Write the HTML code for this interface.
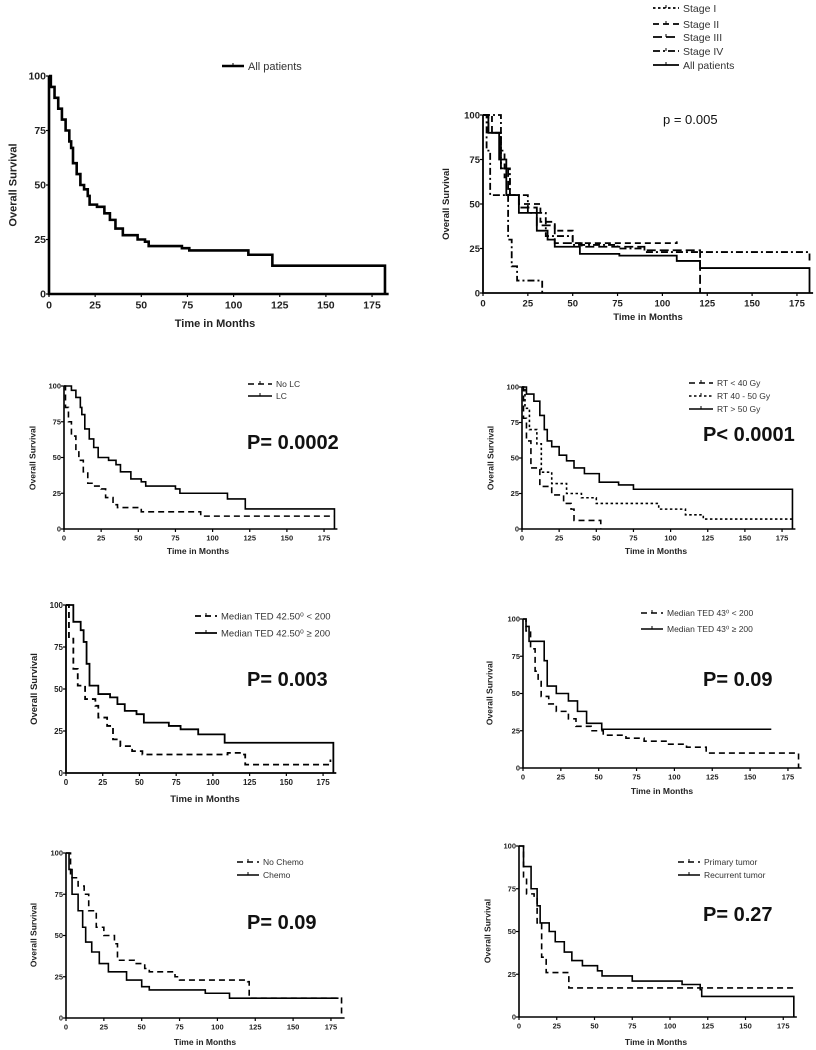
<!DOCTYPE html>
<html><head><meta charset="utf-8"><style>
html,body{margin:0;padding:0;background:#fff;}
svg{display:block;font-family:"Liberation Sans",sans-serif;}
</style></head><body>
<svg id="fig" width="816" height="1050" viewBox="0 0 816 1050"></svg>
<script>
const xTicks=[0,25,50,75,100,125,150,175];
const yTicks=[0,25,50,75,100];
// Panel 1: all patients
const p1All=[[0,100],[1,95],[3,90],[5,85],[7,80],[9,75],[11,70],[12,67],[13,60],[15,55],[17,50],[19,48],[21,45],[22,41],[26,40],[30,37],[33,34],[36,30],[40,27],[48,25],[52,24],[54,22],[72,21],[76,20],[108,18],[121,13],[182,13],[182,0]];
// Panel 2: stage
const p2S1=[[0,100],[2,80],[4,55],[13,55],[14,30],[16,15],[19,7],[33,7],[33,0]];
const p2S2=[[0,100],[5,90],[10,80],[12,65],[15,55],[20,50],[30,50],[32,40],[40,35],[50,28],[55,28],[108,29]];
const p2S3=[[0,100],[3,90],[10,70],[14,55],[20,48],[30,38],[40,28],[55,26],[90,24],[120,24],[121,0]];
const p2S4=[[0,100],[10,70],[15,55],[25,45],[35,32],[50,27],[75,25],[90,23],[182,23],[182,17]];
const p2All=[[0,100],[3,90],[9,75],[13,55],[20,45],[30,35],[36,30],[40,26],[54,22],[76,21],[108,18],[121,14],[182,14],[182,0]];
// Panel 3: local control
const p3NoLC=[[0,100],[1,85],[3,75],[5,65],[8,55],[10,48],[13,40],[16,32],[20,30],[25,28],[28,22],[33,17],[36,15],[50,15],[52,12],[90,12],[92,9],[182,9]];
const p3LC=[[0,100],[5,97],[8,92],[11,85],[12,80],[14,70],[17,63],[20,57],[23,50],[30,48],[35,45],[38,40],[45,35],[52,33],[55,30],[75,28],[78,25],[108,25],[110,21],[121,21],[122,14],[182,14],[182,0]];
// Panel 4: RT dose
const p4Lo=[[0,100],[1,78],[3,62],[6,43],[12,30],[20,24],[25,24],[28,18],[33,14],[35,6],[50,6],[53,0]];
const p4Mid=[[0,100],[2,85],[5,70],[10,60],[13,40],[20,32],[30,25],[40,22],[50,18],[90,18],[92,14],[110,10],[122,7],[182,7]];
const p4Hi=[[0,100],[3,95],[8,90],[12,80],[15,70],[17,62],[20,58],[25,52],[30,48],[35,43],[42,39],[52,33],[65,31],[75,28],[182,28],[182,0]];
// Panel 5: TED 42.5
const p5Lo=[[0,100],[2,80],[5,62],[8,52],[13,44],[20,40],[22,33],[28,28],[32,20],[37,16],[45,13],[52,11],[110,12],[120,11],[122,5],[180,5],[180,8]];
const p5Hi=[[0,100],[5,90],[10,85],[12,78],[14,65],[16,52],[22,47],[30,45],[35,41],[40,37],[48,35],[53,30],[70,28],[78,26],[90,23],[107,23],[108,18],[182,18],[182,0]];
// Panel 6: TED 43
const p6Lo=[[0,100],[2,92],[5,80],[8,65],[10,58],[12,48],[17,43],[22,38],[30,33],[35,28],[45,25],[53,22],[68,20],[80,18],[95,16],[108,14],[121,10],[180,10],[182,0]];
const p6Hi=[[0,100],[2,95],[4,85],[12,85],[14,72],[16,55],[22,50],[30,45],[36,38],[42,30],[52,26],[164,26]];
// Panel 7: chemo
const p7No=[[0,100],[3,85],[8,80],[12,75],[15,65],[20,55],[25,50],[32,45],[34,35],[45,33],[52,30],[55,28],[72,25],[75,23],[95,23],[120,22],[121,12],[182,11],[182,0]];
const p7Yes=[[0,100],[2,90],[4,75],[8,65],[11,55],[13,46],[17,40],[22,33],[28,28],[40,23],[50,19],[55,17],[90,17],[92,15],[107,15],[108,12],[180,12]];
// Panel 8: tumor
const p8Prim=[[0,100],[3,82],[5,72],[10,70],[12,55],[15,35],[18,26],[30,26],[33,17],[182,17]];
const p8Rec=[[0,100],[3,88],[8,75],[12,65],[14,55],[20,50],[24,44],[30,38],[35,33],[42,30],[52,27],[55,24],[75,21],[108,19],[120,16],[121,12],[182,12],[182,0]];

const NS="http://www.w3.org/2000/svg";
const svg=document.getElementById('fig');
function mk(tag,attrs,parent){const e=document.createElementNS(NS,tag);for(const k in attrs)e.setAttribute(k,attrs[k]);(parent||svg).appendChild(e);return e;}
const DASH={solid:'',dash:'6,4',dot:'2.5,2.5',dashdot:'7,3,2,3',longdash:'9,4'};

const panels=[
 {id:'all',x0:49,y0:294,yt:76,ppm:1.846,lw:2.6,fs:10.5,lfs:11,xl:[215,327],yl:[12,185],
  series:[{d:p1All,s:'solid',n:'all-patients'}],
  legend:[{s:'solid',t:'All patients',x:222,y:66,n:'all-patients'}],lx:[222,244],p:null},
 {id:'stage',x0:483,y0:293,yt:115,ppm:1.794,lw:1.8,fs:9.5,lfs:9.5,xl:[648,320],yl:[445,204],
  series:[{d:p2S1,s:'dashdot',n:'stage-1'},{d:p2S2,s:'dash',n:'stage-2'},{d:p2S3,s:'longdash',n:'stage-3'},{d:p2S4,s:'dashdot',n:'stage-4'},{d:p2All,s:'solid',n:'all-patients'}],
  legend:[{s:'dot',t:'Stage I',y:8,n:'stage-1'},{s:'dash',t:'Stage II',y:24,n:'stage-2'},{s:'longdash',t:'Stage III',y:37,n:'stage-3'},{s:'dashdot',t:'Stage IV',y:51,n:'stage-4'},{s:'solid',t:'All patients',y:65,n:'all-patients'}],lx:[653,679],lfs2:10.5,
  p:{t:'p = 0.005',x:663,y:124,fs:13,w:'normal'}},
 {id:'lc',x0:64,y0:529,yt:386,ppm:1.486,lw:1.6,fs:7.5,lfs:8.5,xl:[198,554],yl:[32,458],
  series:[{d:p3NoLC,s:'dash',n:'no-lc'},{d:p3LC,s:'solid',n:'lc'}],
  legend:[{s:'dash',t:'No LC',y:384,n:'no-lc'},{s:'solid',t:'LC',y:396,n:'lc'}],lx:[248,272],
  p:{t:'P= 0.0002',x:247,y:449,fs:20,w:'bold'}},
 {id:'rt',x0:522,y0:529,yt:387,ppm:1.486,lw:1.6,fs:7.5,lfs:8.5,xl:[656,554],yl:[490,458],
  series:[{d:p4Lo,s:'dash',n:'rt-under-40'},{d:p4Mid,s:'dot',n:'rt-40-50'},{d:p4Hi,s:'solid',n:'rt-over-50'}],
  legend:[{s:'dash',t:'RT < 40 Gy',y:383,n:'rt-under-40'},{s:'dot',t:'RT 40 - 50 Gy',y:396,n:'rt-40-50'},{s:'solid',t:'RT > 50 Gy',y:409,n:'rt-over-50'}],lx:[689,713],
  p:{t:'P< 0.0001',x:703,y:441,fs:20,w:'bold'}},
 {id:'ted42',x0:66,y0:773,yt:605,ppm:1.469,lw:1.8,fs:8,lfs:9.5,xl:[205,802],yl:[33,689],
  series:[{d:p5Lo,s:'dash',n:'ted42-under-200'},{d:p5Hi,s:'solid',n:'ted42-over-200'}],
  legend:[{s:'dash',t:'Median TED 42.50\u2070 < 200',y:616,n:'ted42-under-200'},{s:'solid',t:'Median TED 42.50\u2070 \u2265 200',y:633,n:'ted42-over-200'}],lx:[195,217],
  p:{t:'P= 0.003',x:247,y:686,fs:20,w:'bold'}},
 {id:'ted43',x0:523,y0:768,yt:619,ppm:1.514,lw:1.6,fs:7.5,lfs:8.5,xl:[662,794],yl:[489,693],
  series:[{d:p6Lo,s:'dash',n:'ted43-under-200'},{d:p6Hi,s:'solid',n:'ted43-over-200'}],
  legend:[{s:'dash',t:'Median TED 43\u2070 < 200',y:613,n:'ted43-under-200'},{s:'solid',t:'Median TED 43\u2070 \u2265 200',y:629,n:'ted43-over-200'}],lx:[641,663],
  p:{t:'P= 0.09',x:703,y:686,fs:20,w:'bold'}},
 {id:'chemo',x0:66,y0:1018,yt:853,ppm:1.514,lw:1.6,fs:7.5,lfs:8.5,xl:[205,1045],yl:[33,935],
  series:[{d:p7No,s:'dash',n:'no-chemo'},{d:p7Yes,s:'solid',n:'chemo'}],
  legend:[{s:'dash',t:'No Chemo',y:862,n:'no-chemo'},{s:'solid',t:'Chemo',y:875,n:'chemo'}],lx:[237,259],
  p:{t:'P= 0.09',x:247,y:929,fs:20,w:'bold'}},
 {id:'tumor',x0:519,y0:1017,yt:846,ppm:1.51,lw:1.6,fs:7.5,lfs:8.5,xl:[656,1045],yl:[487,931],
  series:[{d:p8Prim,s:'dash',n:'primary-tumor'},{d:p8Rec,s:'solid',n:'recurrent-tumor'}],
  legend:[{s:'dash',t:'Primary tumor',y:862,n:'primary-tumor'},{s:'solid',t:'Recurrent tumor',y:875,n:'recurrent-tumor'}],lx:[678,700],
  p:{t:'P= 0.27',x:703,y:921,fs:20,w:'bold'}}
];

panels.forEach(P=>{
  const g=mk('g',{});
  
  
  const sx=t=>P.x0+t*P.ppm;
  const sy=v=>P.y0-(v/100)*(P.y0-P.yt);
  const xEnd=sx(184);
  // axes
  const ax=mk('path',{d:`M${P.x0} ${P.yt} L${P.x0} ${P.y0} L${xEnd} ${P.y0}`,fill:'none',stroke:'#000','stroke-width':P.lw},g);
  
  
  xTicks.forEach(t=>{
    mk('line',{x1:sx(t),x2:sx(t),y1:P.y0,y2:P.y0+3,stroke:'#000','stroke-width':1.2},g);
    const tx=mk('text',{x:sx(t),y:P.y0+P.fs+4,'text-anchor':'middle','font-size':P.fs,'font-weight':'bold',fill:'#222'},g);
    tx.textContent=t;
    
    
  });
  yTicks.forEach(v=>{
    mk('line',{x1:P.x0-3,x2:P.x0,y1:sy(v),y2:sy(v),stroke:'#000','stroke-width':1.2},g);
    const tx=mk('text',{x:P.x0-3,y:sy(v)+P.fs*0.35,'text-anchor':'end','font-size':P.fs,'font-weight':'bold',fill:'#222'},g);
    tx.textContent=v;
    
    
  });
  const xl=mk('text',{x:P.xl[0],y:P.xl[1],'text-anchor':'middle','font-size':P.lfs,'font-weight':'bold',fill:'#222'},g);
  xl.textContent='Time in Months';
  
  
  const yl=mk('text',{x:0,y:0,transform:`translate(${P.yl[0]+P.lfs*0.4},${P.yl[1]}) rotate(-90)`,'text-anchor':'middle','font-size':P.lfs,'font-weight':'bold',fill:'#222'},g);
  yl.textContent='Overall Survival';
  
  
  // series as step functions
  P.series.forEach(S=>{
    let d='';
    S.d.forEach((pt,i)=>{
      if(i===0){d+=`M${sx(pt[0])} ${sy(pt[1])}`;}
      else{d+=` L${sx(pt[0])} ${sy(S.d[i-1][1])} L${sx(pt[0])} ${sy(pt[1])}`;}
    });
    const p=mk('path',{d:d,fill:'none',stroke:'#000','stroke-width':P.lw,'stroke-dasharray':DASH[S.s]},g);
    
    
  });
  // legend
  P.legend.forEach(L=>{
    const lg=mk('g',{},g);
    
    
    const lx0=L.x!==undefined?L.x:P.lx[0], lx1=L.x!==undefined?L.x+22:P.lx[1];
    mk('line',{x1:lx0,x2:lx1,y1:L.y,y2:L.y,stroke:'#000','stroke-width':P.lw,'stroke-dasharray':DASH[L.s]},lg);
    mk('line',{x1:(lx0+lx1)/2,x2:(lx0+lx1)/2,y1:L.y-3,y2:L.y,stroke:'#000','stroke-width':1},lg);
    const fs=P.lfs2||P.lfs;
    const t=mk('text',{x:lx1+4,y:L.y+fs*0.36,'font-size':fs,fill:'#333'},lg);
    t.textContent=L.t;
  });
  if(P.p){
    const t=mk('text',{x:P.p.x,y:P.p.y,'font-size':P.p.fs,'font-weight':P.p.w,fill:'#111'},g);
    t.textContent=P.p.t;
    
    
  }
});
</script>
</body></html>
